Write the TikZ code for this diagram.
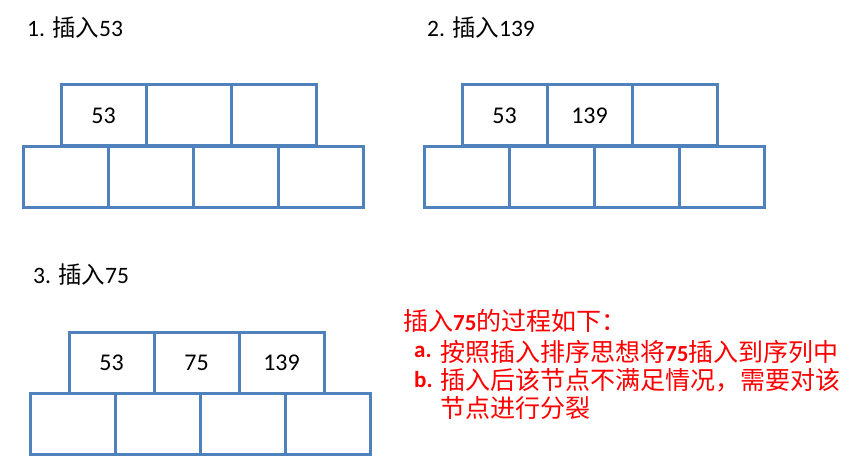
\documentclass[tikz,border=0pt]{standalone}
\usepackage{fontspec}
\setmainfont{Carlito}[Numbers=Lining]
\newfontfamily\zhf{Noto Sans CJK SC}
\newcommand\zh[1]{{\zhf\fontsize{23.5}{26}\selectfont #1}}
\newcommand\zhr[1]{{\zhf\mdseries\fontsize{25}{27}\selectfont #1}}
\definecolor{cellblue}{RGB}{79,129,189}
\begin{document}
\begin{tikzpicture}[x=1pt,y=-1pt,
  cell/.style={draw=cellblue,line width=3pt,minimum width=85pt,minimum height=61pt,inner sep=0pt,font=\fontsize{24}{26}\selectfont},
  title/.style={anchor=west,inner sep=0pt,font=\fontsize{23.5}{26}\selectfont},
  note/.style={anchor=west,inner sep=0pt,text=red,font=\fontsize{23}{26}\selectfont\bfseries}]
\useasboundingbox (0,0) rectangle (855,470);
% diagram 1
\node[title] (t1) at (27,28) {1. \zh{插入}53};
\node[cell] (a1) at (103.5,115.5) {53};
\node[cell] (a2) at (188.5,115.5) {};
\node[cell] (a3) at (273.5,115.5) {};
\node[cell] (b1) at (65.5,177) {};
\node[cell] (b2) at (150.5,177) {};
\node[cell] (b3) at (235.5,177) {};
\node[cell] (b4) at (320.5,177) {};
% diagram 2
\node[title] (t2) at (427,28) {2. \zh{插入}139};
\node[cell] (c1) at (504.5,115.5) {53};
\node[cell] (c2) at (589.5,115.5) {139};
\node[cell] (c3) at (674.5,115.5) {};
\node[cell] (d1) at (466.5,177) {};
\node[cell] (d2) at (551.5,177) {};
\node[cell] (d3) at (636.5,177) {};
\node[cell] (d4) at (721.5,177) {};
% diagram 3
\node[title] (t3) at (33,275) {3. \zh{插入}75};
\node[cell] (e1) at (111.5,363) {53};
\node[cell] (e2) at (196.5,363) {75};
\node[cell] (e3) at (281.5,363) {139};
\node[cell] (f1) at (72.5,424.5) {};
\node[cell] (f2) at (157.5,424.5) {};
\node[cell] (f3) at (242.5,424.5) {};
\node[cell] (f4) at (327.5,424.5) {};
% notes
\node[note] (n0) at (403,321) {\zhr{插入}75\zhr{的过程如下：}};
\node[note] (na) at (414,352) {a.};
\node[note] (n1) at (440,352) {\zhr{按照插入排序思想将}75\zhr{插入到序列中}};
\node[note] (nb) at (414,380) {b.};
\node[note] (n2) at (440,380) {\zhr{插入后该节点不满足情况，需要对该}};
\node[note] (n3) at (440,408) {\zhr{节点进行分裂}};
\end{tikzpicture}
\end{document}
